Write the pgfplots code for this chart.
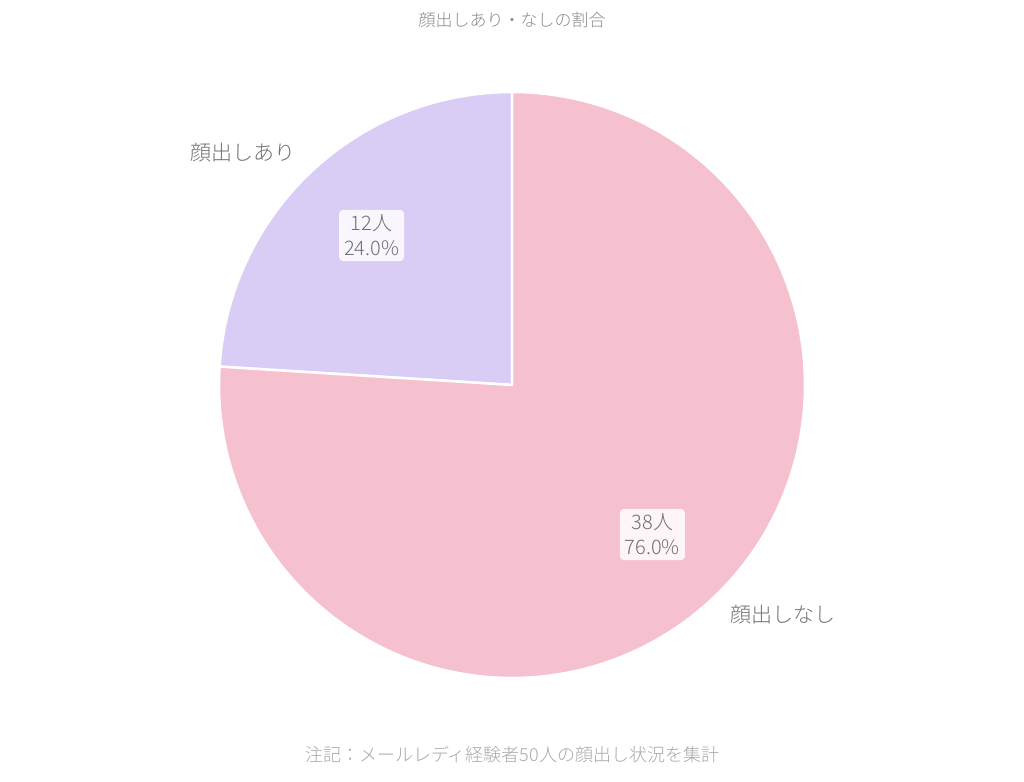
\documentclass[border=0pt]{standalone}
\usepackage{pgfplots}
\pgfplotsset{compat=1.18}
\usepackage{fontspec}
\setmainfont{Noto Sans CJK JP Light}

\definecolor{pinkslice}{HTML}{F6C1CE}
\definecolor{lavslice}{HTML}{DACDF5}
\definecolor{titlegray}{HTML}{8A8A8A}
\definecolor{labelgray}{HTML}{707070}
\definecolor{notegray}{HTML}{A8A8A8}

\begin{document}
\begin{tikzpicture}
\begin{axis}[
    scale only axis,
    width=1024pt, height=781pt,
    xmin=0, xmax=1024, ymin=0, ymax=781,
    hide axis, clip=false
]
    % counts
    \def\va{12}  % 顔出しあり
    \def\vb{38}  % 顔出しなし
    \def\cx{512}\def\cy{396}\def\R{293}
    \pgfmathsetmacro{\aend}{90+360*\va/(\va+\vb)}
    \pgfmathsetmacro{\bend}{450}

    \path (rel axis cs:0,0) rectangle (rel axis cs:1,1);

    % slices
    \addplot[fill=lavslice, draw=white, line width=2.5pt, line join=round,
        domain=90:\aend, samples=80]
        ({\cx+\R*cos(x)},{\cy+\R*sin(x)}) -- (axis cs:\cx,\cy) -- cycle;
    \addplot[fill=pinkslice, draw=white, line width=2.5pt, line join=round,
        domain=\aend:\bend, samples=200]
        ({\cx+\R*cos(x)},{\cy+\R*sin(x)}) -- (axis cs:\cx,\cy) -- cycle;

    % labels
    \pgfmathsetmacro{\ma}{(90+\aend)/2}
    \pgfmathsetmacro{\mb}{(\aend+\bend)/2}
    \tikzset{inlbl/.style={fill=white, fill opacity=0.85, text opacity=1,
        rounded corners=4pt, align=center, text=labelgray, inner sep=5pt,
        font=\fontsize{20}{25}\selectfont}}
    \node[inlbl] at (axis cs:{\cx+0.7*\R*cos(\ma)},{\cy+0.7*\R*sin(\ma)}) {12人\\24.0\%};
    \node[inlbl] at (axis cs:{\cx+0.7*\R*cos(\mb)},{\cy+0.7*\R*sin(\mb)}) {38人\\76.0\%};

    \node[anchor=east, text=labelgray, font=\fontsize{21}{25}\selectfont, xshift=8pt, yshift=-3pt]
        at (axis cs:{\cx+1.1*\R*cos(\ma)},{\cy+1.1*\R*sin(\ma)}) {顔出しあり};
    \node[anchor=west, text=labelgray, font=\fontsize{21}{25}\selectfont, xshift=-6pt, yshift=5pt]
        at (axis cs:{\cx+1.1*\R*cos(\mb)},{\cy+1.1*\R*sin(\mb)}) {顔出しなし};

    \node[text=titlegray, font=\fontsize{17}{20}\selectfont] at (axis cs:512,761) {顔出しあり・なしの割合};
    \node[text=notegray, font=\fontsize{18}{22}\selectfont] at (axis cs:512,26) {注記：メールレディ経験者50人の顔出し状況を集計};
\end{axis}
\end{tikzpicture}
\end{document}
